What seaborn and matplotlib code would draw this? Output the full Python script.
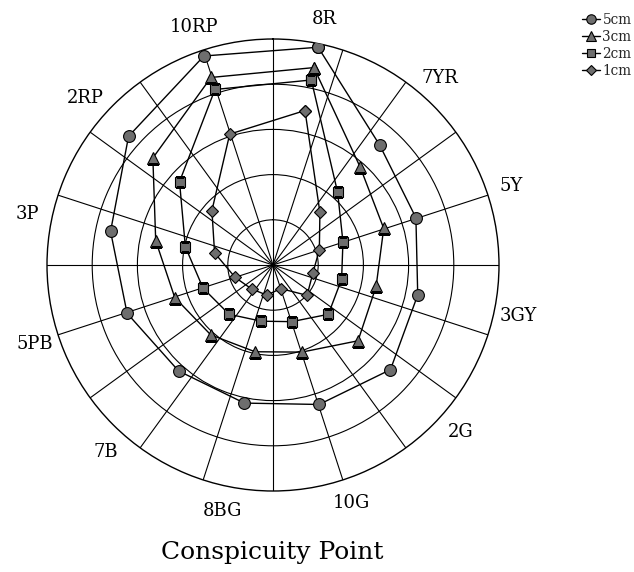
import numpy as np
import pandas as pd
import matplotlib
matplotlib.use("Agg")
import matplotlib.pyplot as plt
from matplotlib.lines import Line2D
import seaborn as sns

# Munsell hues, clockwise from the top
hues = ["8R", "7YR", "5Y", "3GY", "2G", "10G", "8BG", "7B", "5PB", "3P", "2RP", "10RP"]
sizes = ["5cm", "3cm", "2cm", "1cm"]

# Conspicuity point per hue for each target size
pts_5cm = [4.92, 3.55, 3.33, 3.27, 3.48, 3.25, 3.12, 3.14, 3.40, 3.67, 4.28, 4.87]
pts_3cm = [4.46, 2.90, 2.58, 2.33, 2.52, 2.03, 1.96, 2.07, 2.29, 2.65, 3.56, 4.37]
pts_2cm = [4.18, 2.15, 1.63, 1.55, 1.64, 1.32, 1.27, 1.46, 1.63, 1.98, 2.77, 4.09]
pts_1cm = [3.49, 1.56, 1.08, 0.90, 1.01, 0.55, 0.68, 0.71, 0.88, 1.32, 1.81, 3.05]

series = {"5cm": pts_5cm, "3cm": pts_3cm, "2cm": pts_2cm, "1cm": pts_1cm}
markers = {"5cm": "o", "3cm": "^", "2cm": "s", "1cm": "D"}
msizes = {"5cm": 8.5, "3cm": 8.5, "2cm": 7.5, "1cm": 6.0}

sns.set_theme(style="white")
plt.rcParams["font.family"] = ["DejaVu Serif"]

# hue angles: evenly spaced, first hue slightly clockwise of north
start_deg = 11.7
step_deg = 360.0 / len(hues)
theta = np.deg2rad(start_deg + step_deg * np.arange(len(hues)))

rows = []
for s in sizes:
    vals = series[s]
    for i, (h, v) in enumerate(zip(hues + [hues[0]], vals + [vals[0]])):
        t = theta[i] if i < len(hues) else theta[0] + 2 * np.pi
        rows.append({"size": s, "hue": h, "theta": t, "value": v, "order": i})
df = pd.DataFrame(rows)

fig = plt.figure(figsize=(6.34, 5.72), dpi=100)
ax = fig.add_axes([47 / 634, 1 - 491 / 572, 452 / 634, 452 / 572], projection="polar")
ax.set_theta_zero_location("N")
ax.set_theta_direction(-1)
ax.set_ylim(0, 5)
ax.set_yticks([1, 2, 3, 4])
ax.set_yticklabels([])
ax.set_xticks(np.deg2rad(np.arange(0, 360, 18)))
ax.set_xticklabels([])
ax.tick_params(length=0)
ax.grid(True, color="black", linewidth=0.8, linestyle="-")
ax.spines["polar"].set_color("black")
ax.spines["polar"].set_linewidth(1.0)
ax.set_facecolor("white")

face = "#6e6e6e"
for s in sizes:
    sub = df[df["size"] == s]
    sns.lineplot(data=sub, x="theta", y="value", sort=False, estimator=None,
                 color="black", linewidth=1.0, marker=markers[s],
                 markersize=msizes[s], markerfacecolor=face,
                 markeredgecolor="black", markeredgewidth=0.8,
                 legend=False, ax=ax, zorder=3)
ax.set_xlabel("")
ax.set_ylabel("")

# hue names just outside the outer ring
for t, h in zip(theta, hues):
    ax.text(t, 5.55, h, ha="center", va="center", fontsize=13, color="black")

fig.text(272 / 634, 1 - 553 / 572, "Conspicuity Point", ha="center", va="center",
         fontsize=18, color="black")

handles = [Line2D([], [], color="black", linewidth=1.0, marker=markers[s],
                  markersize=msizes[s] * 0.8, markerfacecolor=face,
                  markeredgecolor="black", markeredgewidth=0.8) for s in sizes]
fig.legend(handles, sizes, loc="upper left", bbox_to_anchor=(582 / 634, 1 - 13 / 572),
           frameon=False, fontsize=9.8, handlelength=1.3, handletextpad=0.2,
           labelspacing=0.22, borderpad=0.0, borderaxespad=0.0)

fig.savefig("out.png", dpi=100, facecolor="white")
